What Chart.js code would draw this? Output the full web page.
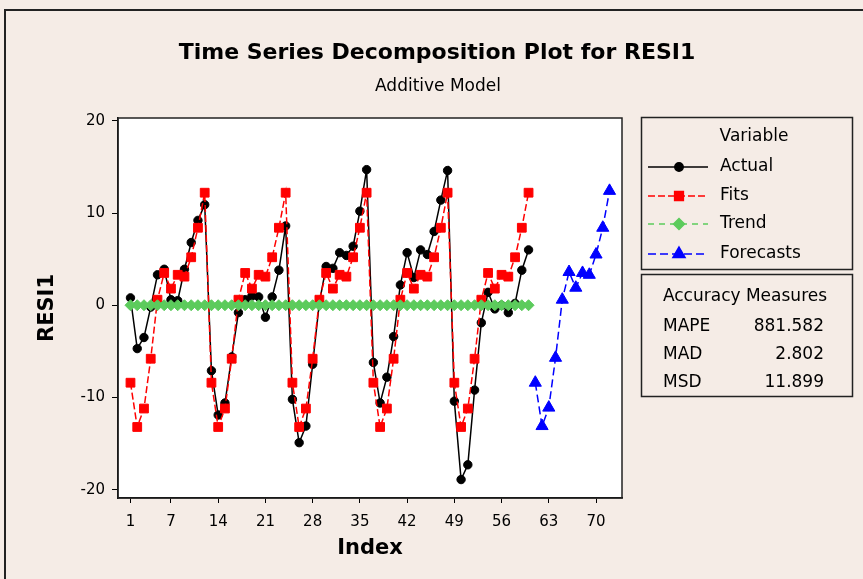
<!DOCTYPE html>
<html>
<head>
<meta charset="utf-8">
<script src="https://cdn.jsdelivr.net/npm/chart.js@4.4.1/dist/chart.umd.min.js"></script>
<style>
  html,body{margin:0;padding:0;background:#f5ece6;}
  canvas{display:block;}
</style>
</head>
<body>
<canvas id="chart" width="863" height="579"></canvas>
<script>
(function(){
  const FONT = '"DejaVu Sans", Verdana, sans-serif';

  // axis ticks
  const xTicks = [1, 7, 14, 21, 28, 35, 42, 49, 56, 63, 70];
  const yTicks = [-20, -10, 0, 10, 20];

  // series, index 1..60
  const actual = [
    0.8, -4.7, -3.5, -0.2, 3.3, 3.9, 0.6, 0.5, 3.9, 6.8, 9.2, 10.9,
    -7.1, -11.9, -10.6, -5.6, -0.8, 0.6, 1.0, 0.9, -1.3, 0.9, 3.8, 8.6,
    -10.2, -14.9, -13.1, -6.4, 0.3, 4.2, 4.0, 5.7, 5.4, 6.4, 10.2, 14.7,
    -6.2, -10.6, -7.8, -3.4, 2.2, 5.7, 3.0, 6.0, 5.5, 8.0, 11.4, 14.6,
    -10.4, -18.9, -17.3, -9.2, -1.9, 1.4, -0.4, 0.0, -0.8, 0.2, 3.8, 6.0
  ];
  const fits = [
    -8.4, -13.2, -11.2, -5.8, 0.6, 3.5, 1.8, 3.3, 3.1, 5.2, 8.4, 12.2,
    -8.4, -13.2, -11.2, -5.8, 0.6, 3.5, 1.8, 3.3, 3.1, 5.2, 8.4, 12.2,
    -8.4, -13.2, -11.2, -5.8, 0.6, 3.5, 1.8, 3.3, 3.1, 5.2, 8.4, 12.2,
    -8.4, -13.2, -11.2, -5.8, 0.6, 3.5, 1.8, 3.3, 3.1, 5.2, 8.4, 12.2,
    -8.4, -13.2, -11.2, -5.8, 0.6, 3.5, 1.8, 3.3, 3.1, 5.2, 8.4, 12.2
  ];
  const trend = [
    0, 0, 0, 0, 0, 0, 0, 0, 0, 0, 0, 0,
    0, 0, 0, 0, 0, 0, 0, 0, 0, 0, 0, 0,
    0, 0, 0, 0, 0, 0, 0, 0, 0, 0, 0, 0,
    0, 0, 0, 0, 0, 0, 0, 0, 0, 0, 0, 0,
    0, 0, 0, 0, 0, 0, 0, 0, 0, 0, 0, 0
  ];
  // index 61..72
  const forecasts = [-8.4, -13.1, -11.1, -5.7, 0.6, 3.6, 1.9, 3.5, 3.3, 5.5, 8.4, 12.4];
  const forecastStart = 61;

  const accuracyLabels = ['MAPE', 'MAD', 'MSD'];
  const accuracyValues = ['881.582', '2.802', '11.899'];

  const pts = (arr, start) => arr.map((v, i) => ({ x: start + i, y: v }));

  const decor = {
    id: 'decor',
    beforeDraw(chart){
      const { ctx, chartArea: a } = chart;
      ctx.save();
      ctx.fillStyle = '#f5ece6';
      ctx.fillRect(0, 0, chart.width, chart.height);
      ctx.fillStyle = '#fff';
      ctx.fillRect(a.left, a.top, a.right - a.left, a.bottom - a.top);
      ctx.restore();
    },
    afterDraw(chart){
      const { ctx, chartArea: a } = chart;
      ctx.save();
      // outer frame (cut by the window)
      ctx.strokeStyle = '#222';
      ctx.lineWidth = 2;
      ctx.beginPath();
      ctx.moveTo(5, chart.height); ctx.lineTo(5, 10); ctx.lineTo(chart.width, 10);
      ctx.stroke();
      // plot frame
      ctx.lineWidth = 1.5;
      ctx.strokeRect(a.left, a.top, a.right - a.left, a.bottom - a.top);

      // titles
      ctx.fillStyle = '#000';
      ctx.textAlign = 'center';
      ctx.textBaseline = 'middle';
      ctx.font = 'bold 22px ' + FONT;
      ctx.fillText('Time Series Decomposition Plot for RESI1', 437, 53);
      ctx.font = '17px ' + FONT;
      ctx.fillText('Additive Model', 438, 87);

      // legend box
      ctx.strokeRect(641.5, 117.5, 211, 152);
      ctx.font = '17px ' + FONT;
      ctx.fillText('Variable', 754, 137);
      const rowsY = [167, 196, 224, 254];
      chart.data.datasets.forEach((ds, i) => {
        const y = rowsY[i];
        ctx.save();
        ctx.strokeStyle = ds.borderColor;
        ctx.lineWidth = ds.borderWidth;
        ctx.setLineDash(ds.borderDash || []);
        ctx.beginPath();
        ctx.moveTo(648, y); ctx.lineTo(708, y);
        ctx.stroke();
        ctx.setLineDash([]);
        ctx.fillStyle = ds.pointBackgroundColor || ds.borderColor;
        Chart.helpers.drawPoint(ctx, { pointStyle: ds.pointStyle, radius: ds.pointRadius, rotation: 0, borderWidth: 1 }, 679, y);
        ctx.restore();
        ctx.textAlign = 'left';
        ctx.fillText(ds.label, 720, y);
      });

      // accuracy box
      ctx.strokeRect(641.5, 274.5, 211, 122);
      ctx.textAlign = 'center';
      ctx.fillText('Accuracy Measures', 745, 297);
      const accY = [327, 355, 383];
      accuracyLabels.forEach((lab, i) => {
        ctx.textAlign = 'left';
        ctx.fillText(lab, 663, accY[i]);
        ctx.textAlign = 'right';
        ctx.fillText(accuracyValues[i], 824, accY[i]);
      });
      ctx.restore();
    }
  };

  new Chart(document.getElementById('chart'), {
    type: 'line',
    data: {
      datasets: [
        { label: 'Actual', data: pts(actual, 1), borderColor: '#000000', pointBackgroundColor: '#000000',
          borderWidth: 1.5, pointStyle: 'circle', pointRadius: 4.2, pointBorderWidth: 1, order: 2 },
        { label: 'Fits', data: pts(fits, 1), borderColor: '#ff0000', pointBackgroundColor: '#ff0000',
          borderWidth: 1.5, borderDash: [7, 3], pointStyle: 'rect', pointRadius: 6.2, pointBorderWidth: 1, order: 1 },
        { label: 'Trend', data: pts(trend, 1), borderColor: '#5ccb5c', pointBackgroundColor: '#5ccb5c',
          borderWidth: 1.5, borderDash: [6, 5], pointStyle: 'rectRot', pointRadius: 5.5, pointBorderWidth: 1, order: 0 },
        { label: 'Forecasts', data: pts(forecasts, forecastStart), borderColor: '#0000ff', pointBackgroundColor: '#0000ff',
          borderWidth: 1.5, borderDash: [8, 4], pointStyle: 'triangle', pointRadius: 7, pointBorderWidth: 1, order: 3 }
      ]
    },
    options: {
      responsive: false,
      animation: false,
      devicePixelRatio: 1,
      layout: { padding: { left: 31, right: 241, top: 118, bottom: 14 } },
      plugins: { legend: { display: false }, tooltip: { enabled: false } },
      scales: {
        x: {
          type: 'linear', min: -0.85, max: 73.85,
          afterBuildTicks: s => { s.ticks = xTicks.map(v => ({ value: v })); },
          afterFit: s => { s.height = 67; },
          grid: { drawOnChartArea: false, tickLength: 5, color: '#000' },
          border: { color: '#000', width: 1.5 },
          ticks: { color: '#000', font: { family: FONT, size: 15 }, padding: 10, autoSkip: false, maxRotation: 0 },
          title: { display: true, text: 'Index', color: '#000', font: { family: FONT, size: 21, weight: 'bold' }, padding: 4 }
        },
        y: {
          min: -20.9, max: 20.3,
          afterBuildTicks: s => { s.ticks = yTicks.map(v => ({ value: v })); },
          afterFit: s => { s.width = 87; },
          grid: { drawOnChartArea: false, tickLength: 6, color: '#000' },
          border: { color: '#000', width: 1.5 },
          ticks: { color: '#000', font: { family: FONT, size: 15 }, padding: 7 },
          title: { display: true, text: 'RESI1', color: '#000', font: { family: FONT, size: 21, weight: 'bold' }, padding: 4 }
        }
      }
    },
    plugins: [decor]
  });
})();
</script>
</body>
</html>
